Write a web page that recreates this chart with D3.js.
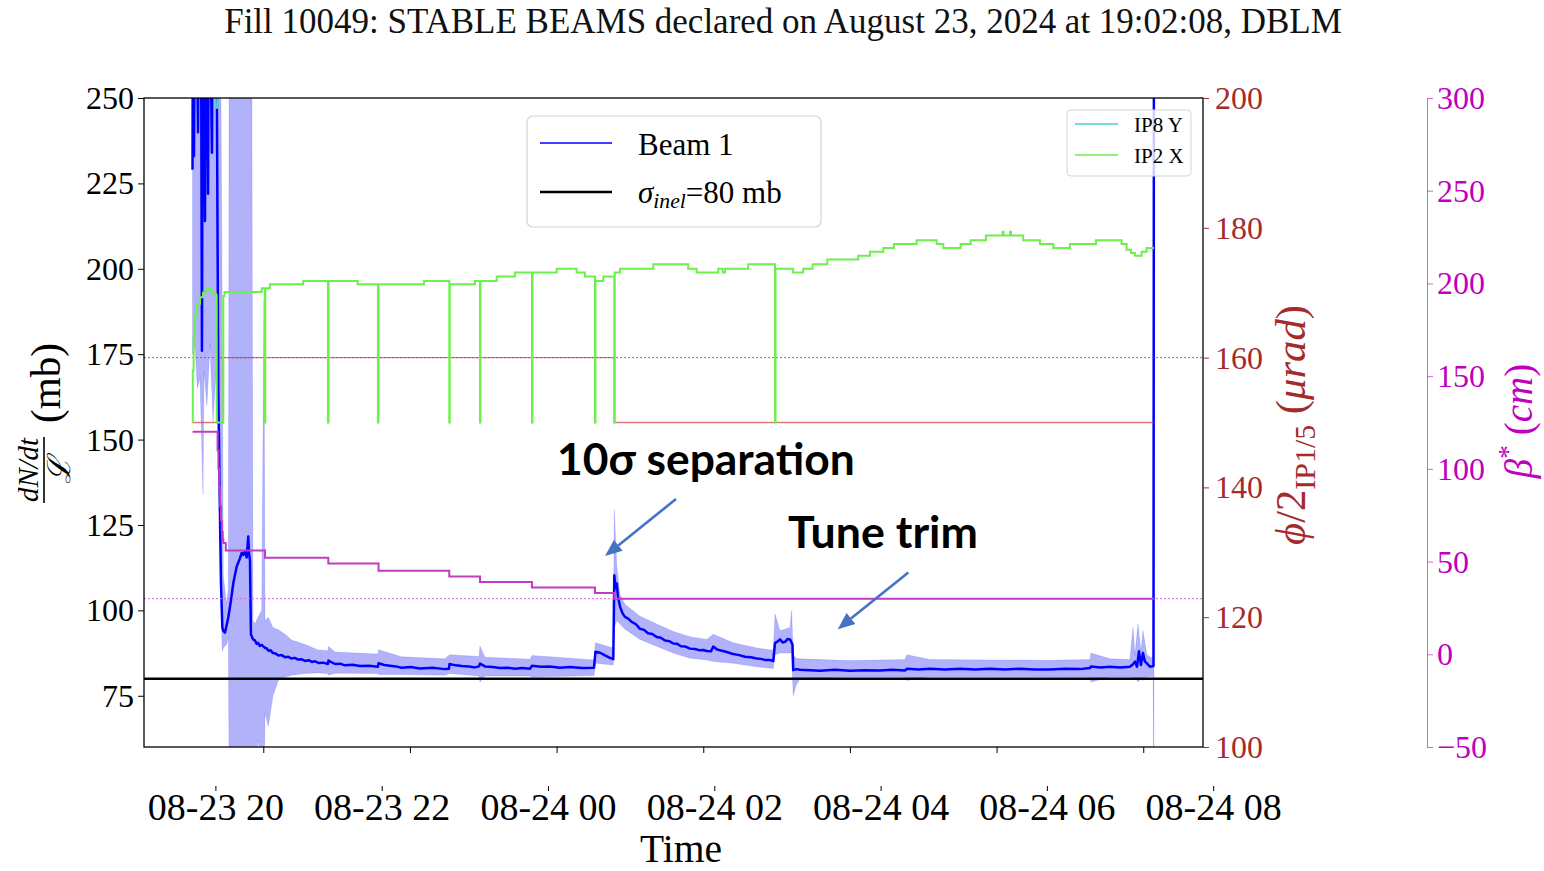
<!DOCTYPE html>
<html><head><meta charset="utf-8">
<script src="https://cdn.jsdelivr.net/npm/d3@7"></script>
<style>
body{margin:0;background:#fff}
svg{display:block;font-family:"Liberation Serif","Times New Roman",serif}
</style>
</head><body>
<svg id="c" width="1544" height="871"></svg>
<script>
// ---------- DATA (time = minutes after 2024-08-23 19:00) ----------
const titleText = "Fill 10049: STABLE BEAMS declared on August 23, 2024 at 19:02:08, DBLM";
const yLeftTicks = [75,100,125,150,175,200,225,250];
const yRightTicks = [100,120,140,160,180,200];
const yBetaTicks = [-50,0,50,100,150,200,250,300];
const sigmaInel = 80;      // mb
const xingRef = 160;       // µrad, dotted reference
const betaRef = 30;        // cm, dotted reference

// Beam 1 dN/dt / L (mb)
const beam = [[2.1,229],[2.5,300],[3.3,233],[4.1,290],[4.9,300],[6.6,240],[7.4,300],[9.0,285],[9.8,176],[10.7,300],[12.3,214],[13.1,300],[14.8,222],[15.6,300],[18.0,234],[18.9,300],[20.5,300],[21.9,262],[22.5,215],[23.2,165],[24.6,127],[25.4,108],[26.5,95],[27.3,94],[28.7,93.5],[29.9,95.5],[31.4,98],[33.6,103],[35.5,108],[38.2,112.8],[40.9,115.2],[42.3,116.8],[43.6,116.2],[45.0,117.4],[46.4,115.5],[47.7,121.6],[48.3,117],[49.1,114.7],[49.9,93],[51.6,91.5],[53.2,91.2],[54.5,90.2],[55.7,90.5],[57.2,89.6],[58.7,89.9],[61.4,89],[62.8,88.9],[64.1,88.2],[66.0,88.3],[67.9,87.5],[70.1,87.4],[72.3,86.8],[75.0,86.9],[77.8,86.3],[80.5,86.4],[83.2,85.9],[85.8,86.1],[88.4,85.6],[91.2,85.7],[94.1,85.2],[97.0,85.4],[99.8,84.9],[102.4,85.1],[105.0,84.6],[109.0,84.7],[112.9,84.3],[113.3,85.3],[118.7,84.3],[122.8,84.4],[126.9,83.9],[133.0,84.1],[139.1,83.7],[146.5,83.8],[153.8,83.5],[154.3,84.5],[159.0,84.0],[163.7,83.8],[168.5,83.6],[173.2,83.2],[180.7,83.4],[188.2,83.0],[198.5,83.2],[208.7,82.8],[211.9,82.9],[212.4,84.3],[217.5,83.9],[222.6,83.7],[228.0,83.6],[233.2,83.3],[236.5,83.6],[237.3,84.4],[241.4,83.6],[247.5,83.4],[253.7,83.1],[259.8,83.2],[265.9,82.9],[272.0,83.1],[278.2,82.9],[279.9,83.8],[287.2,83.5],[294.6,83.6],[302.7,83.2],[310.9,83.4],[320.7,83.1],[330.6,83.2],[331.8,87.9],[335.5,87.6],[339.6,86.8],[343.7,86.1],[346.4,85.7],[347.2,110.3],[348.2,106.5],[349.2,107.9],[350.2,104],[351.9,101.1],[353.9,99.2],[355.9,98.1],[358.6,97.6],[361.4,96.6],[364.8,96.0],[368.2,94.6],[371.5,94.3],[374.8,93.3],[378.3,93.1],[381.9,92.2],[385.3,92.0],[388.7,91.2],[392.1,91.0],[395.5,90.3],[398.6,90.2],[401.8,89.5],[405.5,89.4],[409.1,88.8],[413.2,88.7],[417.3,88.3],[420.0,88.4],[422.8,88.1],[426.3,88],[428.2,89.4],[431.0,88.6],[433.7,88.3],[439.2,87.8],[444.6,87.2],[449.4,86.9],[454.1,86.4],[458.9,86.3],[463.7,85.9],[467.1,85.8],[470.5,85.5],[473.9,85.5],[477.3,85.2],[478.7,90.4],[480.8,90.9],[482.8,91.5],[484.9,90.6],[486.9,90.8],[489.0,91.6],[491.0,91.5],[493.0,90],[493.6,82.5],[496.3,82.8],[499.1,82.6],[507.3,82.5],[515.5,82.3],[527.8,82.6],[540.0,82.3],[552.3,82.5],[564.6,82.4],[574.8,82.6],[585.0,82.4],[586.7,82.9],[596.1,82.7],[605.5,82.9],[617.8,82.7],[630.0,82.9],[642.3,82.7],[654.6,82.9],[666.9,82.7],[679.1,82.9],[691.4,82.7],[703.7,82.7],[716.0,82.9],[728.2,82.8],[736.4,83.1],[737.2,83.6],[745.0,83.3],[752.8,83.5],[761.0,83.3],[769.1,83.5],[771.6,84.2],[773.2,85],[774.9,83.5],[776.5,88],[778.1,84],[779.8,87.5],[781.4,85],[783.0,84.5],[785.5,83.5],[788.4,83.7],[788.8,300]];

// Beam 1 uncertainty band [t, low, high]
const band = [[2.1,175,300],[4.1,178,300],[6.0,165,300],[8.2,168,300],[10.7,134,300],[11.5,170,300],[13.9,160,300],[16.4,178,300],[18.9,155,300],[21.3,170,300],[23.3,150,300],[24.6,118,300],[25.4,100,250],[26.5,88,180],[27.3,89,110],[29.9,90,102],[31.4,92,106],[32.2,40,300],[50.4,40,300],[51.6,45,97],[53.2,52,96],[55.7,62,98],[58.7,55,100],[60.6,40,191],[61.4,70,97],[64.1,66,98],[67.9,75,95],[72.3,79.5,94.3],[77.8,80.5,93],[83.2,81,91.3],[94.1,81.5,90],[105.0,81.7,88.4],[112.9,81.5,88.2],[113.3,81.0,89.5],[118.7,81.6,87.8],[153.8,81.5,87.2],[154.3,81.2,88.5],[173.2,81.2,86.4],[208.7,81,85.8],[212.4,81.5,87],[236.5,80.8,86.5],[237.3,79,89.5],[241.4,80.8,86.3],[278.2,80.8,85.7],[279.9,80.5,86.8],[330.6,80.9,85.5],[331.8,84.5,90.5],[346.4,84,89],[347.2,95,129.4],[349.2,97,113],[351.9,96,104.5],[355.9,94.5,101.8],[368.2,91.5,98.3],[381.9,89.5,96],[395.5,87.5,93.8],[409.1,86,92.3],[422.8,85.5,91.5],[428.2,85,93],[444.6,84.5,90.5],[463.7,83.5,89],[477.3,83,88.3],[478.7,87,99],[482.8,87.5,94],[491.0,87.5,95],[492.3,87.5,100],[493.6,75,87],[495.9,78,86],[499.1,80,85.8],[540.0,80.5,85.3],[585.0,80.5,85.6],[586.7,79.5,87],[605.5,80.6,85.6],[654.6,80.6,85.5],[703.7,80.5,85.4],[736.4,80.4,85.6],[737.2,79,87.5],[752.8,80.5,85.8],[769.1,80.5,85.6],[771.6,80,95],[773.2,80.3,87],[775.7,79,96],[778.1,80,88],[779.8,79.5,94],[783.0,80.5,87],[788.0,80.7,85.8],[788.8,40,300]];

// IP2 X crossing angle (µrad), step after
const ip2 = [[2.1,150],[2.3,158],[3.0,163],[4.1,166.5],[5.7,168.3],[8.2,169.3],[10.7,170.0],[13.1,170.5],[15.6,170.6],[17.2,170.4],[18.9,169.8],[21.3,169.6],[21.9,150],[27.3,169.5],[28.3,170.1],[58.7,170.7],[61.2,150],[61.6,170.7],[65.4,171.3],[92.7,171.8],[112.9,150],[113.4,171.8],[137.2,171.3],[153.8,150],[154.3,171.3],[191.5,171.8],[212.2,150],[212.6,171.3],[233.2,171.8],[237.3,150],[237.7,171.8],[251.0,172.5],[265.9,173.1],[279.9,150],[280.3,173.1],[300.1,173.7],[316.4,173.1],[323.2,172.5],[331.4,150],[331.8,171.8],[338.2,172.5],[347.2,150],[347.6,173.1],[351.9,173.7],[379.1,174.4],[407.7,173.7],[414.6,173.1],[432.3,173.7],[435.9,173.1],[437.8,173.7],[456.8,174.4],[478.7,150],[479.1,173.7],[493.6,173.1],[501.8,173.7],[509.5,174.4],[521.5,175.1],[546.8,175.7],[556.4,176.3],[567.3,176.9],[576.0,177.5],[594.6,178.1],[611.0,177.5],[616.4,176.9],[630.6,177.5],[638.8,178.1],[651.3,178.8],[665.0,179.4],[665.8,178.8],[671.0,179.4],[671.8,178.8],[681.8,178.1],[695.5,177.5],[706.4,176.9],[720.0,177.5],[741.3,178.1],[762.3,177.5],[766.4,176.6],[770.0,176.1],[773.2,175.7],[778.7,176.3],[782.8,176.9],[788.8,176.9]];

// IP8 Y crossing angle (µrad) – mostly above the visible range
const ip8 = [[2.1,205],[20.5,205],[21.0,198.5],[22.6,198.5],[23.3,205],[788.8,205]];

// phi/2 IP1/5 (µrad), step after
const xing = [[2.1,150],[27.3,160],[347.2,150],[788.8,150]];

// beta* (cm), step after
const beta = [[2.1,120],[21.9,120],[22.6,110],[23.3,100],[24.0,90],[24.7,80],[25.4,72],[26.1,66],[26.8,62],[27.3,60],[29.3,56],[61.4,52],[113.2,49],[154.3,45],[212.2,42],[237.3,39],[279.9,36],[331.4,33],[347.2,30],[788.8,30]];

// annotations [text, t, value]
const notes = [{text:"10σ separation", t:300.3, v:139.6, from:[397.7,132.6], to:[339.6,115.9], width:298},
               {text:"Tune trim", t:489.3, v:118.3, from:[587.8,111.1], to:[530.0,94.5], width:190}];

// ---------- SETUP ----------
const svg = d3.select("#c");
const T0 = new Date(2024,7,23,19,0,0);
const toDate = m => new Date(T0.getTime() + m*60000);
const box = {l:144, r:1203, t:98, b:747};

const x = d3.scaleTime().domain([toDate(-37.6), toDate(828.9)]).range([box.l, box.r]);
const xLab = d3.scaleTime().domain([new Date(2024,7,23,20), new Date(2024,7,24,8)]).range([215.4, 1213.2]);
const yL = d3.scaleLinear().domain([60,250]).range([box.b, box.t]);
const yR = d3.scaleLinear().domain([100,200]).range([box.b, box.t]);
const yB = d3.scaleLinear().domain([-50,300]).range([box.b, box.t]);

const BROWN = "#a52a2a", MAG = "#bf00bf";
const SERIF = "Liberation Serif, Times New Roman, serif";

svg.append("defs").append("clipPath").attr("id","clip")
  .append("rect").attr("x",box.l).attr("y",box.t).attr("width",box.r-box.l).attr("height",box.b-box.t);

function fit(sel, target){
  const w = sel.node().getComputedTextLength();
  const fs = parseFloat(sel.attr("font-size"));
  sel.attr("font-size", fs*target/w);
}

// title
const title = svg.append("text").attr("x",783).attr("y",33).attr("text-anchor","middle")
  .attr("font-size",30).attr("fill","#111").text(titleText);
fit(title, 1118);

const plot = svg.append("g").attr("clip-path","url(#clip)");

// band
plot.append("path").datum(band)
  .attr("fill","#1010f0").attr("fill-opacity",0.32).attr("stroke","#0000ff").attr("stroke-opacity",0.15).attr("stroke-width",0.8)
  .attr("d", d3.area().x(d=>x(toDate(d[0]))).y0(d=>yL(d[1])).y1(d=>yL(d[2])));
// beam line
plot.append("path").datum(beam).attr("fill","none").attr("stroke","#0000ff").attr("stroke-width",2.5)
  .attr("stroke-linejoin","round")
  .attr("d", d3.line().x(d=>x(toDate(d[0]))).y(d=>yL(d[1])));
// sigma inel
plot.append("line").attr("x1",box.l).attr("x2",box.r).attr("y1",yL(sigmaInel)).attr("y2",yL(sigmaInel))
  .attr("stroke","#000").attr("stroke-width",2.4);

// right-axis series
const stepLine = (ys) => d3.line().curve(d3.curveStepAfter).x(d=>x(toDate(d[0]))).y(d=>ys(d[1]));
plot.append("line").attr("x1",box.l).attr("x2",box.r).attr("y1",yR(xingRef)).attr("y2",yR(xingRef))
  .attr("stroke","#c83030").attr("stroke-width",1).attr("stroke-dasharray","2,2").attr("opacity",0.8);
plot.append("path").datum(xing).attr("fill","none").attr("stroke","#d04040").attr("stroke-opacity",0.7).attr("stroke-width",1.3)
  .attr("d", stepLine(yR));
plot.append("path").datum(ip8).attr("fill","none").attr("stroke","#4fd0d0").attr("stroke-width",2)
  .attr("d", d3.line().x(d=>x(toDate(d[0]))).y(d=>yR(d[1])));
plot.append("path").datum(ip2).attr("fill","none").attr("stroke","#6cf04c").attr("stroke-width",2)
  .attr("d", stepLine(yR));

// beta
plot.append("line").attr("x1",box.l).attr("x2",box.r).attr("y1",yB(betaRef)).attr("y2",yB(betaRef))
  .attr("stroke","#e060e0").attr("stroke-width",1).attr("stroke-dasharray","2,2");
plot.append("path").datum(beta).attr("fill","none").attr("stroke","#c03cc0").attr("stroke-width",2)
  .attr("d", stepLine(yB));

// box
svg.append("rect").attr("x",box.l).attr("y",box.t).attr("width",box.r-box.l).attr("height",box.b-box.t)
  .attr("fill","none").attr("stroke","#000").attr("stroke-width",1.3);

// ---------- AXES ----------
const hours2 = d3.timeHour.every(2);
const gxb = svg.append("g").attr("transform",`translate(0,${box.b})`)
  .call(d3.axisBottom(x).ticks(hours2).tickSize(6).tickSizeOuter(0).tickFormat(""));
gxb.select(".domain").remove();
gxb.selectAll("line").attr("stroke","#000").attr("stroke-width",1);

const gxl = svg.append("g").attr("transform","translate(0,786)")
  .call(d3.axisBottom(xLab).ticks(hours2).tickSize(5).tickFormat(d3.timeFormat("%m-%d %H")));
gxl.attr("font-family",SERIF).attr("font-size",null);
gxl.select(".domain").remove();
gxl.selectAll("line").attr("stroke","#000").attr("stroke-width",1);
gxl.selectAll("text").attr("y",34).attr("dy",0).attr("font-size",38).attr("fill","#000");

svg.append("text").attr("x",681).attr("y",862).attr("text-anchor","middle").attr("font-size",39.5).text("Time");

const gyl = svg.append("g").attr("transform",`translate(${box.l},0)`)
  .call(d3.axisLeft(yL).tickValues(yLeftTicks).tickSize(6).tickPadding(4).tickSizeOuter(0));
gyl.attr("font-family",SERIF);
gyl.select(".domain").remove();
gyl.selectAll("text").attr("font-size",32).attr("fill","#000").attr("dy","0.33em");

const gyr = svg.append("g").attr("transform",`translate(${box.r},0)`)
  .call(d3.axisRight(yR).tickValues(yRightTicks).tickSize(6).tickPadding(6).tickSizeOuter(0));
gyr.attr("font-family",SERIF);
gyr.select(".domain").remove();
gyr.selectAll("line").attr("stroke",BROWN);
gyr.selectAll("text").attr("font-size",32).attr("fill",BROWN).attr("dy","0.33em");

const gyb = svg.append("g").attr("transform","translate(1427,0)")
  .call(d3.axisRight(yB).tickValues(yBetaTicks).tickSize(6).tickPadding(4).tickSizeOuter(0)
        .tickFormat(d => d<0 ? "\u2212"+Math.abs(d) : d));
gyb.attr("font-family",SERIF);
gyb.select(".domain").attr("stroke",MAG).attr("stroke-opacity",0.6);
gyb.selectAll("line").attr("stroke",MAG).attr("stroke-opacity",0.6);
gyb.selectAll("text").attr("font-size",32).attr("fill",MAG).attr("dy","0.33em");

// ---------- AXIS LABELS ----------
// left: dN/dt / L (mb)
const lg = svg.append("g");
const mb = lg.append("text").attr("transform","translate(60,383) rotate(-90)").attr("text-anchor","middle")
  .attr("font-size",40).text("(mb)");
fit(mb, 80);
const num = lg.append("text").attr("transform","translate(38,470) rotate(-90)").attr("text-anchor","middle")
  .attr("font-size",28).attr("font-style","italic").text("dN/dt");
fit(num, 64);
lg.append("line").attr("x1",44).attr("x2",44).attr("y1",437).attr("y2",503).attr("stroke","#000").attr("stroke-width",1.6);
lg.append("text").attr("transform","translate(70,470) rotate(-90)").attr("text-anchor","middle")
  .attr("font-size",32).attr("font-style","italic").attr("font-family","DejaVu Serif, serif").text("\u2112");

// right: phi/2 IP1/5 (µrad)
const rl = svg.append("text").attr("transform","translate(1305,425) rotate(-90)").attr("text-anchor","middle")
  .attr("font-size",40).attr("fill",BROWN);
rl.append("tspan").attr("font-style","italic").text("\u03D5");
rl.append("tspan").text("/2");
rl.append("tspan").attr("font-size","70%").attr("dy","0.32em").text("IP1/5");
rl.append("tspan").attr("dy","-0.224em").text(" (");
rl.append("tspan").attr("font-style","italic").text("\u03BCrad");
rl.append("tspan").text(")");
fit(rl, 240);

// beta* (cm)
const bl = svg.append("text").attr("transform","translate(1532,421) rotate(-90)").attr("text-anchor","middle")
  .attr("font-size",39).attr("fill",MAG);
bl.append("tspan").attr("font-style","italic").text("\u03B2");
bl.append("tspan").attr("font-size","70%").attr("dy","-0.55em").text("*");
bl.append("tspan").attr("dy","0.385em").text(" (");
bl.append("tspan").attr("font-style","italic").text("cm");
bl.append("tspan").text(")");

// ---------- ANNOTATIONS ----------
const ARROW = "#4472c4";
notes.forEach(n => {
  const t = svg.append("text").attr("x",x(toDate(n.t))).attr("y",yL(n.v))
    .attr("font-family","Lato, Open Sans, sans-serif").attr("font-weight","bold").attr("font-size",40).attr("fill","#000").text(n.text);
  fit(t, n.width);
  const x1 = x(toDate(n.from[0])), y1 = yL(n.from[1]), x2 = x(toDate(n.to[0])), y2 = yL(n.to[1]);
  const ang = Math.atan2(y2-y1, x2-x1), L = 17, Wd = 7;
  const bx = x2 - L*Math.cos(ang), by = y2 - L*Math.sin(ang);
  svg.append("line").attr("x1",x1).attr("y1",y1).attr("x2",bx).attr("y2",by).attr("stroke",ARROW).attr("stroke-width",2.6);
  svg.append("path").attr("fill",ARROW)
    .attr("d",`M${x2},${y2}L${bx + Wd*Math.sin(ang)},${by - Wd*Math.cos(ang)}L${bx - Wd*Math.sin(ang)},${by + Wd*Math.cos(ang)}Z`);
});

// ---------- LEGENDS ----------
const l1 = svg.append("g");
l1.append("rect").attr("x",527).attr("y",116).attr("width",294).attr("height",111).attr("rx",6)
  .attr("fill","#fff").attr("fill-opacity",0.85).attr("stroke","#d4d4d4").attr("stroke-width",1.2);
l1.append("line").attr("x1",540).attr("x2",612).attr("y1",143).attr("y2",143).attr("stroke","#0000ff").attr("stroke-width",1.5);
l1.append("text").attr("x",638).attr("y",155).attr("font-size",31).text("Beam 1");
l1.append("line").attr("x1",540).attr("x2",612).attr("y1",192).attr("y2",192).attr("stroke","#000").attr("stroke-width",2.5);
const sl = l1.append("text").attr("x",638).attr("y",203).attr("font-size",31);
sl.append("tspan").attr("font-style","italic").text("\u03C3");
sl.append("tspan").attr("font-style","italic").attr("font-size","70%").attr("dy","0.25em").text("inel");
sl.append("tspan").attr("dy","-0.175em").text("=80 mb");

const l2 = svg.append("g");
l2.append("rect").attr("x",1067).attr("y",110).attr("width",124).attr("height",66).attr("rx",4)
  .attr("fill","#fff").attr("fill-opacity",0.8).attr("stroke","#d4d4d4").attr("stroke-width",1);
l2.append("line").attr("x1",1075).attr("x2",1118).attr("y1",124).attr("y2",124).attr("stroke","#4fd0d0").attr("stroke-width",1.5);
l2.append("text").attr("x",1134).attr("y",131.5).attr("font-size",21).text("IP8 Y");
l2.append("line").attr("x1",1075).attr("x2",1118).attr("y1",155).attr("y2",155).attr("stroke","#6cf04c").attr("stroke-width",1.5);
l2.append("text").attr("x",1134).attr("y",163).attr("font-size",21).text("IP2 X");
</script>
</body></html>
